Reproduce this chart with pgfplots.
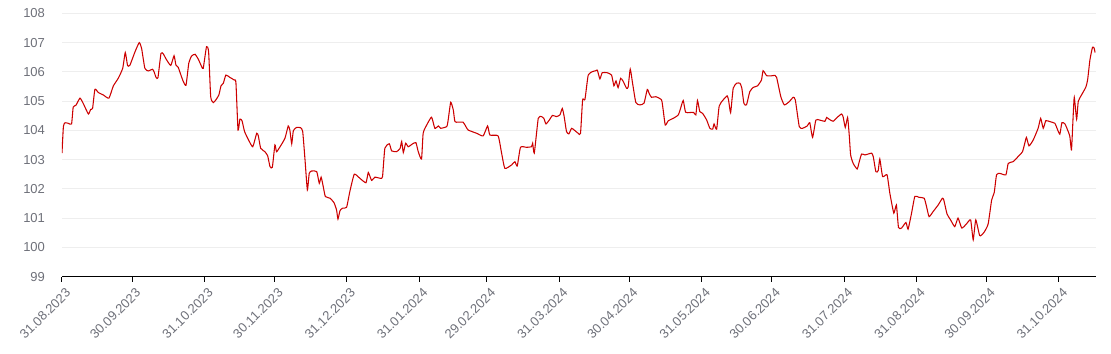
\documentclass[border=0pt]{standalone}
\usepackage{pgfplots}
\pgfplotsset{compat=1.18}
\usepackage{fontspec}
\setmainfont{Liberation Sans}
\usetikzlibrary{calc}
\definecolor{linered}{HTML}{CC0000}
\definecolor{labgray}{HTML}{6E7079}
\definecolor{gridgray}{HTML}{EEEEEE}
\begin{document}
\begin{tikzpicture}
\begin{axis}[
  scale only axis,
  width=775.9pt, height=197.5pt,
  xmin=0, xmax=443.1,
  ymin=99, ymax=108,
  ytick={99,100,101,102,103,104,105,106,107,108},
  xtick={0,30,61,91,122,153,182,213,243,274,304,335,366,396,427},
  xticklabels={31.08.2023,30.09.2023,31.10.2023,30.11.2023,31.12.2023,31.01.2024,29.02.2024,31.03.2024,30.04.2024,31.05.2024,30.06.2024,31.07.2024,31.08.2024,30.09.2024,31.10.2024},
  axis x line*=bottom, axis y line*=left,
  x axis line style={-, draw=black, line width=0.75pt},
  y axis line style={draw=none},
  tick align=outside,
  major tick length=3.75pt,
  xtick style={draw=black, line width=0.75pt},
  ytick style={draw=none},
  ymajorgrids,
  grid style={gridgray, line width=0.75pt},
  /pgf/number format/assume math mode=true,
  yticklabel style={font=\fontsize{9.75pt}{11pt}\selectfont, text=labgray, xshift=-5.5pt},
  xticklabel style={font=\fontsize{9.75pt}{11pt}\selectfont, text=labgray, rotate=45, anchor=north east, xshift=2pt, yshift=-1pt},
  yticklabel={\pgfmathprintnumber[fixed,precision=0]{\tick}},
]
\addplot[linered, line width=0.8pt, smooth, tension=0.3] coordinates {
(0,103.22)(0.6,104.13)(1.3,104.26)(2.7,104.24)(4.1,104.22)(4.8,104.79)(6,104.86)(7.7,105.10)(9.1,104.92)(11.3,104.56)(12.3,104.72)(13.1,104.75)(14.1,105.40)(15.6,105.29)(17.7,105.21)(20.1,105.10)(22,105.52)(24.1,105.78)(26,106.12)(27.1,106.66)(28.1,106.21)(29.1,106.23)(31.3,106.69)(33.1,107.00)(34.1,106.80)(35.5,106.12)(37,106.03)(38.7,106.09)(39.4,106.01)(40.3,105.81)(41.1,105.80)(42.4,106.63)(43.4,106.61)(44.8,106.41)(46.6,106.22)(48,106.55)(48.8,106.23)(49.8,106.15)(51.7,105.72)(53.1,105.54)(54.3,106.29)(55.5,106.54)(57,106.60)(58.4,106.43)(59.8,106.18)(60.5,106.12)(61.9,106.86)(62.8,106.69)(63.7,105.15)(64.8,104.95)(65.9,105.04)(67.2,105.21)(68.1,105.52)(69.1,105.61)(70.2,105.89)(71.9,105.81)(73.8,105.72)(74.5,105.63)(75.4,104.01)(76.2,104.38)(77.1,104.33)(78.2,103.96)(79.8,103.69)(81.7,103.44)(83.4,103.90)(84.1,103.81)(85.1,103.39)(86.9,103.27)(88.1,103.13)(89.1,102.76)(90.1,102.74)(91.2,103.50)(91.9,103.27)(93.4,103.44)(95.5,103.73)(96.9,104.15)(97.6,104.01)(98.4,103.54)(99.1,103.99)(100.5,104.10)(102.2,104.09)(103.1,103.96)(104.1,102.99)(105.1,101.96)(105.9,102.53)(106.9,102.61)(109.1,102.59)(110.2,102.19)(111,102.40)(111.9,102.08)(112.8,101.74)(114.8,101.68)(116.5,101.53)(117.6,101.28)(118.2,100.97)(119.1,101.26)(120.2,101.34)(121.9,101.37)(123.3,101.91)(125.2,102.50)(127.6,102.36)(130.2,102.21)(131.2,102.56)(132.6,102.29)(134,102.40)(136.5,102.36)(137.3,102.42)(138.3,103.39)(140.2,103.54)(141.2,103.30)(143.3,103.27)(144.8,103.38)(145.5,103.62)(146.2,103.24)(147.2,103.56)(148.3,103.44)(150.2,103.54)(151.6,103.58)(152.6,103.27)(154,103.02)(154.7,103.90)(156.2,104.18)(158.3,104.45)(159.7,104.07)(161.2,104.15)(162.2,104.07)(164.8,104.13)(165.4,104.35)(166.5,104.96)(167.6,104.70)(168.3,104.30)(169.7,104.28)(171.8,104.28)(173,104.13)(174,104.01)(177.6,103.90)(180.4,103.81)(182.3,104.15)(183.3,103.84)(186.8,103.81)(188.3,103.22)(189.7,102.70)(192.6,102.82)(194,102.93)(195,102.78)(196.4,103.42)(199,103.42)(201.1,103.44)(201.6,103.56)(202.3,103.22)(204,104.41)(205.4,104.47)(206.4,104.41)(207.3,104.22)(208.7,104.35)(210.1,104.51)(211.8,104.47)(213.3,104.53)(214.3,104.75)(215.1,104.47)(216.1,103.96)(217.1,103.88)(218.3,104.07)(219.7,103.99)(221.1,103.90)(222.1,103.90)(223,105.04)(224,105.06)(225.4,105.89)(227.3,106.01)(228.7,106.04)(229.3,106.06)(230.4,105.76)(231.4,105.97)(233.5,105.97)(235.4,105.89)(236.4,105.52)(237.3,105.69)(238.2,105.46)(239.3,105.78)(240.4,105.67)(241.8,105.44)(242.5,105.48)(243.4,106.09)(244.4,105.61)(245.8,104.95)(247.5,104.87)(249.3,104.93)(250.7,105.40)(251.5,105.26)(252.5,105.13)(254.4,105.15)(256.8,105.04)(257.5,104.70)(258.4,104.18)(259.7,104.33)(261.8,104.41)(264,104.53)(265.1,104.79)(266.1,105.02)(267.1,104.62)(268.9,104.61)(270.6,104.61)(271.5,104.53)(272.2,105.02)(273.2,104.64)(274.4,104.58)(276.1,104.36)(277.5,104.07)(278.7,104.04)(279.3,104.22)(280.4,104.04)(281.5,104.83)(283.2,105.04)(284.9,105.18)(285.5,105.04)(286.4,104.61)(287.5,105.44)(289,105.61)(290.4,105.61)(291.2,105.44)(292.1,104.92)(293.2,104.87)(294.6,105.32)(296.1,105.47)(297.9,105.52)(299.6,105.72)(300.3,106.04)(301.8,105.87)(303.5,105.86)(305.4,105.88)(306.1,105.81)(307.9,105.15)(309.4,104.87)(311.5,104.98)(313.2,105.13)(314.1,105.04)(315.8,104.13)(317.2,104.07)(319.2,104.15)(320.3,104.26)(321.5,103.76)(322.9,104.35)(324.6,104.35)(326.8,104.31)(327.5,104.44)(328.6,104.38)(330.3,104.31)(332,104.44)(333.9,104.56)(334.6,104.46)(335.5,104.10)(336.5,104.44)(337.2,103.84)(337.8,103.16)(338.9,102.87)(340.6,102.68)(341.5,102.93)(342.5,103.19)(343.9,103.16)(345.3,103.19)(346.8,103.22)(347.5,103.10)(348.6,102.59)(349.6,102.62)(350.3,103.02)(351.5,102.42)(353.4,102.48)(354.6,101.85)(356.3,101.17)(357.4,101.45)(358.3,100.68)(359.6,100.66)(361.5,100.85)(362.4,100.62)(363.9,101.17)(365.3,101.74)(367.1,101.71)(369.3,101.68)(370.3,101.40)(371.4,101.05)(373.1,101.22)(375.3,101.45)(377.1,101.68)(377.7,101.62)(379.1,101.14)(380.6,100.94)(382.4,100.71)(383.8,101.00)(385.4,100.66)(387.4,100.80)(389.2,100.94)(390.3,100.26)(391.4,100.94)(393.1,100.40)(394.9,100.51)(396.7,100.80)(398.2,101.62)(399.3,101.87)(400.3,102.48)(401.7,102.53)(404.3,102.48)(405.3,102.87)(407.4,102.93)(409.5,103.10)(411.4,103.27)(412.4,103.56)(413.1,103.76)(414.2,103.47)(416,103.67)(418.1,104.07)(419.2,104.41)(420.3,104.07)(421.4,104.33)(423.1,104.30)(425.3,104.24)(426.2,104.07)(427.4,103.87)(428.3,104.26)(429.6,104.22)(431,103.96)(431.7,103.79)(432.4,103.33)(433.1,104.47)(433.6,105.13)(434.6,104.38)(435.3,104.99)(436.7,105.21)(438.5,105.47)(439.3,105.72)(440.3,106.41)(441.4,106.84)(442.1,106.81)(442.5,106.66)
};
\end{axis}
\pgfresetboundingbox
\path ($(current axis.south west)+(-46.5pt,-58pt)$) rectangle ($(current axis.north east)+(10.9pt,10pt)$);
\end{tikzpicture}
\end{document}
